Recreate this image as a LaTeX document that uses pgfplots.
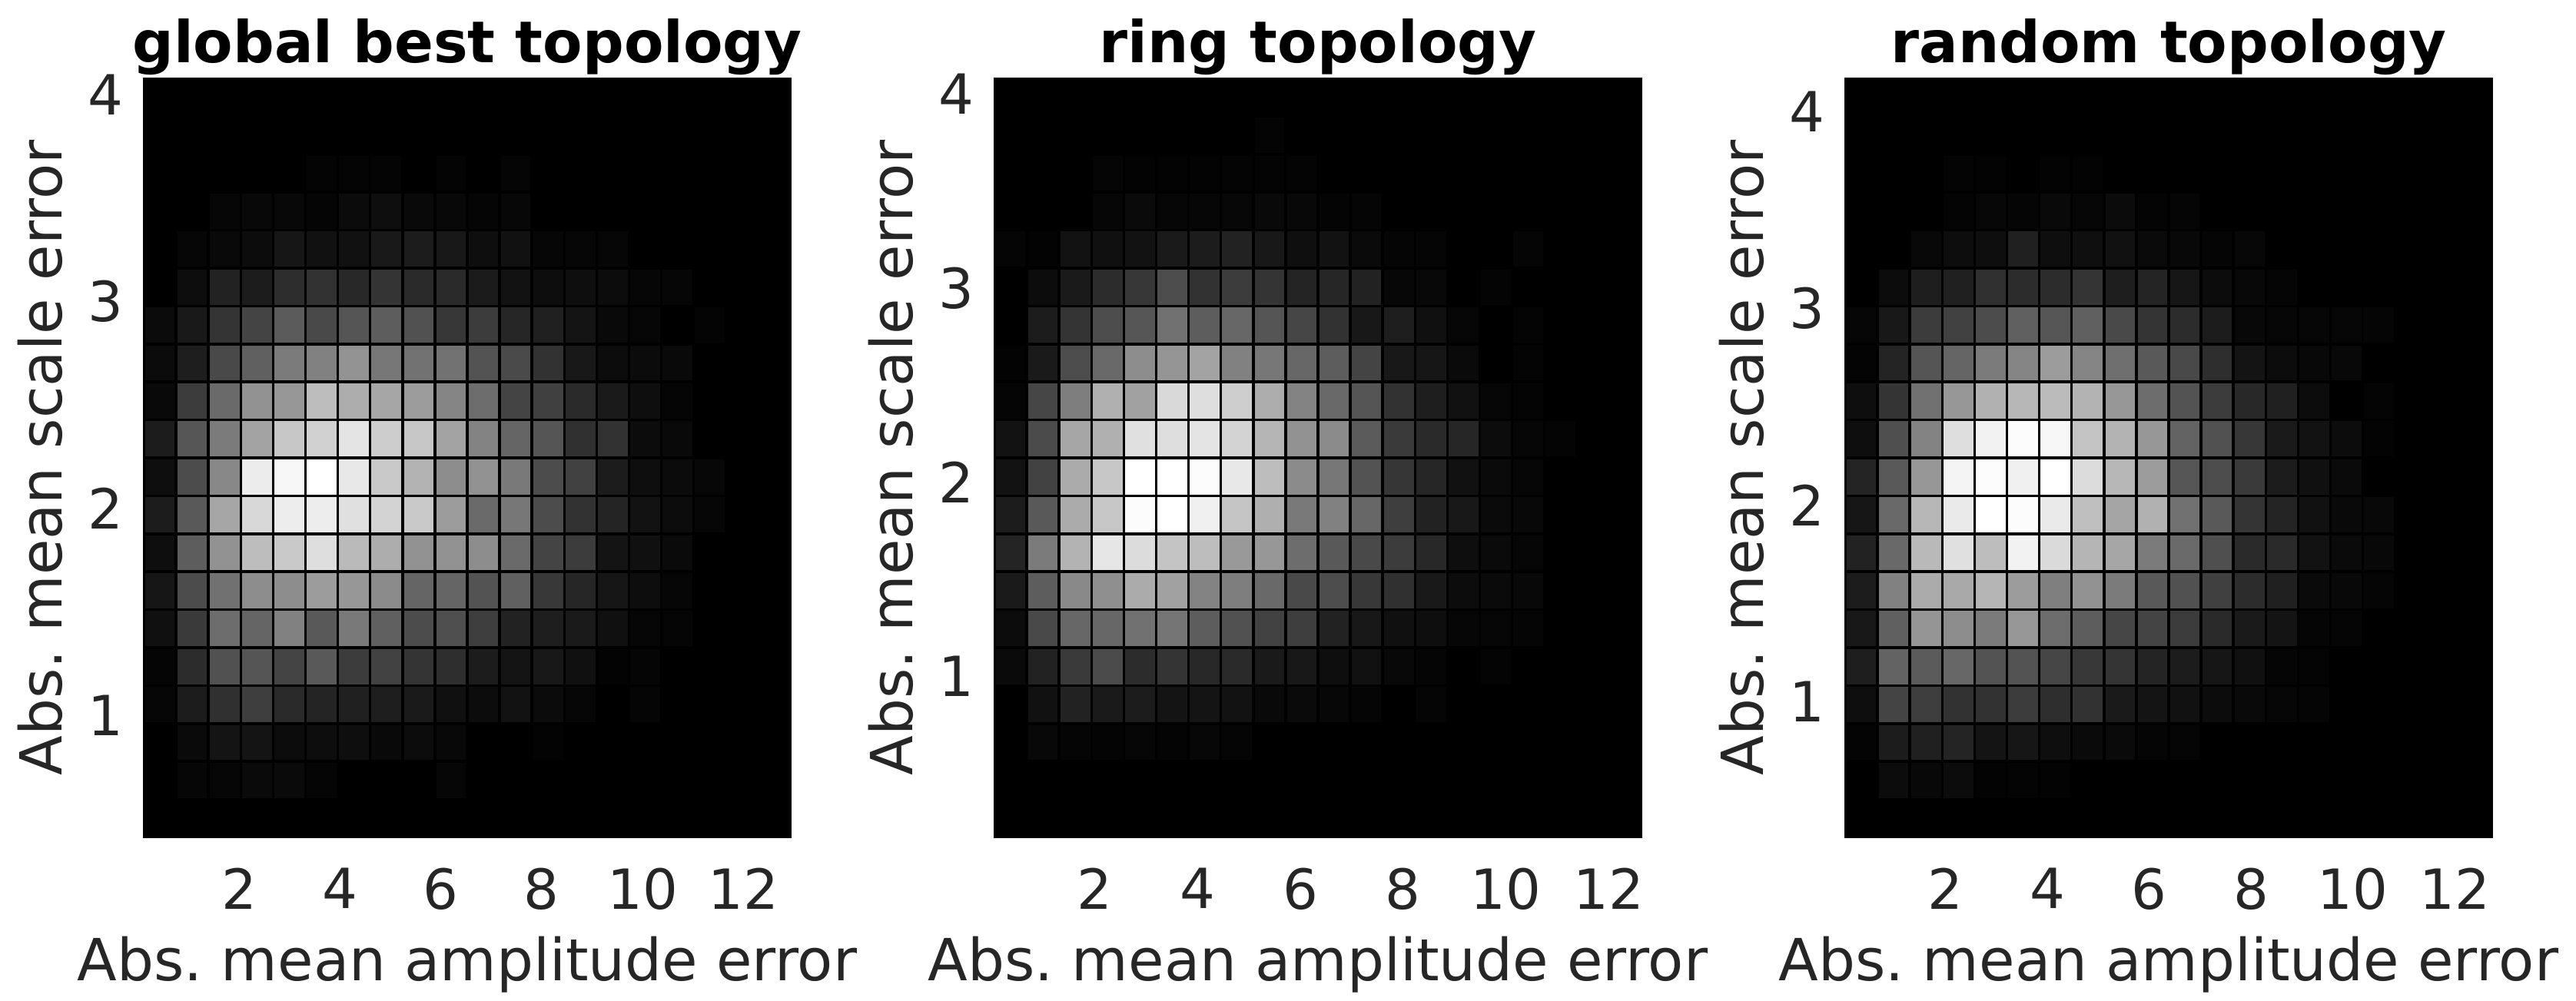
\documentclass[border=0pt]{standalone}
\usepackage{fontspec}
\setmainfont{DejaVu Sans}
\usepackage{pgfplots}
\usepackage{pgfplotstable}
\pgfplotsset{compat=1.18}
\definecolor{txt}{HTML}{262626}
\pgfplotstableread[row sep=\\]{
v\\
0\\0\\0\\0\\0\\0\\0\\0\\0\\0\\0\\0\\0\\0\\0\\0\\0\\0\\0\\0\\
0\\6\\6\\10\\10\\5\\0\\0\\0\\6\\0\\0\\0\\0\\0\\0\\0\\0\\0\\0\\
0\\10\\20\\20\\12\\13\\14\\9\\12\\8\\0\\0\\3\\0\\0\\0\\0\\0\\0\\0\\
6\\28\\48\\62\\42\\36\\32\\30\\26\\16\\12\\18\\11\\6\\0\\5\\0\\0\\0\\0\\
5\\44\\80\\84\\68\\88\\60\\66\\52\\46\\28\\20\\24\\16\\3\\5\\0\\0\\0\\0\\
16\\58\\108\\100\\128\\88\\120\\95\\75\\78\\62\\34\\30\\26\\16\\6\\5\\0\\0\\0\\
22\\75\\112\\140\\140\\155\\150\\138\\100\\100\\82\\95\\56\\38\\22\\13\\6\\0\\0\\0\\
14\\92\\145\\188\\200\\220\\185\\172\\145\\145\\140\\105\\68\\60\\20\\16\\10\\0\\0\\0\\
28\\88\\165\\214\\235\\235\\222\\210\\200\\155\\105\\118\\75\\50\\36\\18\\12\\6\\0\\0\\
14\\75\\135\\234\\245\\255\\230\\200\\178\\140\\145\\120\\75\\65\\28\\14\\11\\7\\0\\0\\
28\\85\\122\\162\\198\\208\\226\\204\\198\\162\\130\\100\\84\\48\\50\\12\\9\\0\\0\\0\\
9\\60\\105\\145\\150\\188\\172\\165\\155\\132\\108\\68\\64\\42\\26\\14\\5\\0\\0\\0\\
11\\30\\72\\95\\122\\128\\146\\118\\113\\113\\82\\73\\50\\24\\12\\11\\9\\0\\0\\0\\
11\\25\\52\\68\\90\\72\\84\\92\\80\\55\\60\\38\\32\\20\\9\\6\\0\\4\\0\\0\\
0\\13\\34\\28\\45\\50\\40\\52\\42\\42\\27\\18\\13\\14\\12\\6\\6\\0\\0\\0\\
0\\6\\9\\12\\22\\17\\17\\25\\28\\24\\14\\17\\6\\6\\6\\0\\0\\0\\0\\0\\
0\\0\\6\\8\\8\\5\\11\\14\\9\\8\\5\\7\\0\\0\\0\\0\\0\\0\\0\\0\\
0\\0\\0\\0\\0\\4\\4\\4\\0\\4\\0\\5\\0\\0\\0\\0\\0\\0\\0\\0\\
0\\0\\0\\0\\0\\0\\0\\0\\0\\0\\0\\0\\0\\0\\0\\0\\0\\0\\0\\0\\
0\\0\\0\\0\\0\\0\\0\\0\\0\\0\\0\\0\\0\\0\\0\\0\\0\\0\\0\\0\\
}\tabA
\pgfplotstableread[row sep=\\]{
v\\
0\\0\\0\\0\\0\\0\\0\\0\\0\\0\\0\\0\\0\\0\\0\\0\\0\\0\\0\\0\\
0\\0\\0\\0\\0\\0\\0\\0\\0\\0\\0\\0\\0\\0\\0\\0\\0\\0\\0\\0\\
0\\8\\5\\4\\6\\4\\7\\5\\0\\0\\0\\0\\0\\0\\0\\0\\0\\0\\0\\0\\
0\\17\\34\\26\\28\\20\\20\\18\\9\\10\\7\\5\\0\\5\\0\\0\\0\\0\\0\\0\\
10\\34\\58\\74\\44\\52\\40\\42\\26\\24\\14\\17\\8\\5\\0\\4\\0\\0\\0\\0\\
12\\72\\102\\102\\112\\116\\92\\80\\66\\62\\34\\24\\16\\14\\6\\6\\5\\0\\0\\0\\
26\\92\\136\\142\\170\\160\\130\\125\\104\\72\\76\\56\\48\\25\\12\\10\\8\\0\\0\\0\\
36\\122\\178\\228\\218\\195\\188\\152\\150\\108\\88\\72\\60\\40\\14\\10\\6\\0\\0\\0\\
28\\88\\170\\198\\250\\255\\238\\196\\174\\120\\128\\102\\62\\34\\24\\10\\8\\0\\0\\0\\
18\\66\\170\\198\\255\\255\\250\\230\\188\\138\\118\\82\\54\\38\\17\\10\\6\\0\\0\\0\\
18\\74\\165\\175\\222\\220\\226\\210\\180\\145\\138\\90\\58\\42\\38\\12\\6\\4\\0\\0\\
5\\70\\125\\175\\160\\215\\220\\205\\172\\130\\104\\84\\50\\30\\17\\6\\4\\0\\0\\0\\
3\\26\\76\\104\\140\\148\\162\\128\\118\\102\\92\\68\\24\\22\\10\\0\\4\\0\\0\\0\\
0\\28\\52\\76\\85\\112\\92\\102\\84\\70\\50\\24\\30\\16\\6\\0\\4\\0\\0\\0\\
0\\12\\26\\44\\55\\76\\50\\60\\52\\36\\38\\34\\7\\8\\0\\4\\0\\0\\0\\0\\
5\\3\\18\\16\\18\\26\\28\\34\\24\\15\\18\\10\\5\\5\\0\\0\\5\\0\\0\\0\\
0\\0\\0\\6\\10\\6\\6\\7\\9\\8\\4\\5\\0\\0\\0\\0\\0\\0\\0\\0\\
0\\0\\0\\5\\3\\3\\3\\4\\4\\4\\0\\0\\0\\0\\0\\0\\0\\0\\0\\0\\
0\\0\\0\\0\\0\\0\\0\\0\\4\\0\\0\\0\\0\\0\\0\\0\\0\\0\\0\\0\\
0\\0\\0\\0\\0\\0\\0\\0\\0\\0\\0\\0\\0\\0\\0\\0\\0\\0\\0\\0\\
}\tabB
\pgfplotstableread[row sep=\\]{
v\\
0\\0\\0\\0\\0\\0\\0\\0\\0\\0\\0\\0\\0\\0\\0\\0\\0\\0\\0\\0\\
0\\12\\8\\12\\3\\4\\3\\0\\0\\0\\0\\0\\0\\0\\0\\0\\0\\0\\0\\0\\
4\\28\\32\\36\\20\\22\\14\\10\\10\\5\\5\\0\\0\\0\\0\\0\\0\\0\\0\\0\\
14\\68\\62\\50\\50\\60\\46\\50\\26\\20\\17\\12\\9\\6\\5\\0\\0\\0\\0\\0\\
30\\98\\90\\102\\82\\82\\70\\56\\52\\36\\28\\22\\16\\5\\4\\0\\0\\0\\0\\0\\
24\\95\\148\\140\\122\\150\\108\\92\\70\\68\\60\\42\\26\\20\\5\\5\\0\\0\\0\\0\\
28\\128\\170\\168\\180\\155\\126\\145\\122\\88\\80\\64\\44\\32\\10\\8\\5\\0\\0\\0\\
34\\104\\184\\222\\188\\240\\216\\180\\165\\122\\105\\78\\42\\42\\18\\10\\8\\0\\0\\0\\
22\\104\\182\\232\\255\\250\\232\\190\\164\\176\\112\\88\\52\\36\\17\\9\\8\\0\\0\\0\\
36\\88\\150\\242\\250\\238\\255\\218\\182\\155\\85\\76\\58\\28\\16\\10\\0\\0\\0\\0\\
14\\78\\130\\220\\240\\250\\245\\195\\178\\150\\98\\80\\55\\26\\18\\12\\3\\0\\0\\0\\
14\\52\\112\\150\\176\\182\\186\\178\\150\\108\\82\\60\\40\\32\\12\\0\\4\\0\\0\\0\\
4\\36\\84\\100\\122\\132\\155\\132\\110\\88\\72\\46\\20\\12\\8\\8\\0\\0\\0\\0\\
6\\24\\60\\65\\75\\95\\85\\95\\72\\52\\44\\28\\8\\6\\6\\6\\5\\0\\0\\0\\
0\\12\\30\\32\\48\\44\\44\\52\\30\\36\\22\\12\\8\\5\\0\\0\\0\\0\\0\\0\\
0\\0\\8\\13\\14\\32\\14\\15\\17\\10\\8\\5\\7\\0\\0\\0\\0\\0\\0\\0\\
0\\0\\0\\4\\7\\5\\9\\6\\11\\4\\5\\0\\0\\0\\0\\0\\0\\0\\0\\0\\
0\\0\\0\\4\\3\\0\\3\\3\\0\\0\\0\\0\\0\\0\\0\\0\\0\\0\\0\\0\\
0\\0\\0\\0\\0\\0\\0\\0\\0\\0\\0\\0\\0\\0\\0\\0\\0\\0\\0\\0\\
0\\0\\0\\0\\0\\0\\0\\0\\0\\0\\0\\0\\0\\0\\0\\0\\0\\0\\0\\0\\
}\tabC
\pgfplotsset{
  panel/.style={
    anchor=south west, scale only axis, width=8.42cm, height=9.88cm,
    colormap={bw}{gray(0cm)=(0); gray(1cm)=(1)},
    point meta min=0, point meta max=255,
    axis line style={draw=black},
    axis background/.style={fill=black},
    major tick length=0pt, tick style={draw=none},
    xtick={2,4,...,12}, ytick={1,2,3,4},
    tick label style={font=\fontsize{20.5}{24}\selectfont, text=txt},
    /pgf/number format/assume math mode=true,
    xticklabel style={yshift=-0.28cm},
    yticklabel style={xshift=-0.14cm},
    xlabel={Abs.\ mean amplitude error}, ylabel={Abs.\ mean scale error},
    label style={font=\fontsize{21.5}{26}\selectfont, text=txt},
    xlabel style={at={(axis description cs:0.5,-0.189)},anchor=base},
    ylabel style={at={(axis description cs:-0.126,0.5)},anchor=base},
    title style={at={(axis description cs:0.5,1.021)},anchor=base,yshift=-6pt,font=\fontsize{21.35}{26}\selectfont\bfseries},
  },
  cells/.style={surf, shader=flat corner, draw=black, line width=1pt, mesh/cols=20, point meta=explicit},
}
\begin{document}
\begin{tikzpicture}[x=1cm,y=1cm]
\clip (0,0) rectangle (33.52,13.02);
\begin{axis}[panel, at={(1.87cm,2.12cm)}, title={global best topology},
  xmin=0.11, xmax=12.94, ymin=0.41, ymax=4.08]
\addplot[cells]
  table[x index=0, y index=0, meta index=0, x expr={0.11+mod(\coordindex,20)*0.6415}, y expr={0.41+floor((\coordindex+0.5)/20)*0.1835}] {\tabA};
\end{axis}
\begin{axis}[panel, at={(12.94cm,2.12cm)}, title={ring topology},
  xmin=0.05, xmax=12.64, ymin=0.17, ymax=4.08]
\addplot[cells]
  table[x index=0, y index=0, meta index=0, x expr={0.05+mod(\coordindex,20)*0.6295}, y expr={0.17+floor((\coordindex+0.5)/20)*0.1955}] {\tabB};
\end{axis}
\begin{axis}[panel, at={(24.01cm,2.12cm)}, title={random topology},
  xmin=0.03, xmax=12.74, ymin=0.31, ymax=4.17]
\addplot[cells]
  table[x index=0, y index=0, meta index=0, x expr={0.03+mod(\coordindex,20)*0.6355}, y expr={0.31+floor((\coordindex+0.5)/20)*0.193}] {\tabC};
\end{axis}
\end{tikzpicture}
\end{document}
